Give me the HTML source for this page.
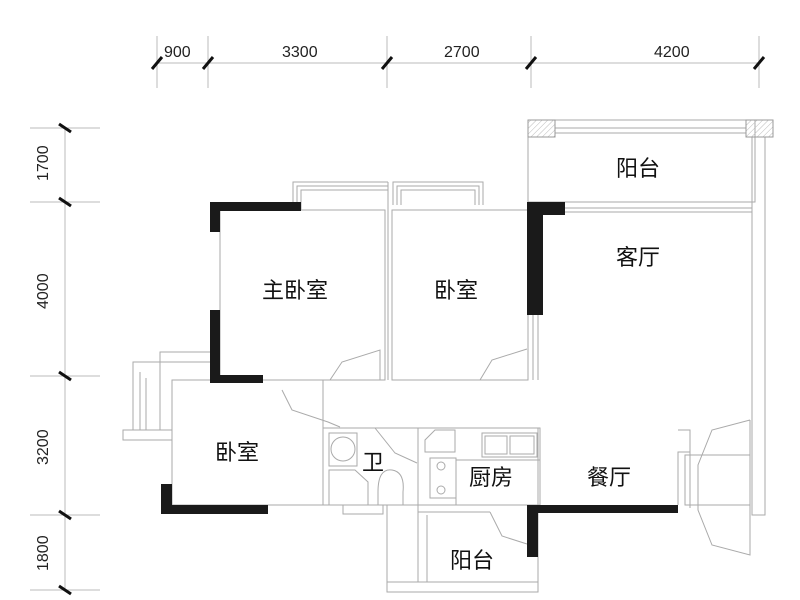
<!DOCTYPE html>
<html><head><meta charset="utf-8"><style>
html,body{margin:0;padding:0;background:#fff}
svg{display:block}
text{font-family:"Liberation Sans","Noto Sans CJK SC",sans-serif;fill:#111}
.d{font-family:"Liberation Sans",sans-serif;font-size:16px;fill:#222}
.r{font-size:22px}
</style></head><body>
<svg width="800" height="600" viewBox="0 0 800 600" xmlns="http://www.w3.org/2000/svg">
<defs><pattern id="h" width="4" height="4" patternUnits="userSpaceOnUse" patternTransform="rotate(45)"><line x1="0" y1="0" x2="0" y2="4" stroke="#bbb" stroke-width="1"/></pattern></defs>
<g stroke="#bbb" stroke-width="1" fill="none">
<line x1="157" y1="63" x2="759" y2="63"/>
<line x1="157" y1="36" x2="157" y2="88"/><line x1="208" y1="36" x2="208" y2="88"/>
<line x1="387" y1="36" x2="387" y2="88"/><line x1="531" y1="36" x2="531" y2="88"/>
<line x1="759" y1="36" x2="759" y2="88"/>
<line x1="65" y1="128" x2="65" y2="590"/>
<line x1="30" y1="128" x2="100" y2="128"/><line x1="30" y1="202" x2="100" y2="202"/>
<line x1="30" y1="376" x2="100" y2="376"/><line x1="30" y1="515" x2="100" y2="515"/>
<line x1="30" y1="590" x2="100" y2="590"/>
</g>
<g stroke="#111" stroke-width="3">
<line x1="152" y1="69" x2="162" y2="57"/><line x1="203" y1="69" x2="213" y2="57"/>
<line x1="382" y1="69" x2="392" y2="57"/><line x1="526" y1="69" x2="536" y2="57"/>
<line x1="754" y1="69" x2="764" y2="57"/>
<line x1="59" y1="124" x2="71" y2="132"/><line x1="59" y1="198" x2="71" y2="206"/>
<line x1="59" y1="372" x2="71" y2="380"/><line x1="59" y1="511" x2="71" y2="519"/>
<line x1="59" y1="586" x2="71" y2="594"/>
</g>
<text class="d" x="164" y="57">900</text><text class="d" x="282" y="57">3300</text>
<text class="d" x="444" y="57">2700</text><text class="d" x="654" y="57">4200</text>
<text class="d" transform="translate(48,181) rotate(-90)">1700</text>
<text class="d" transform="translate(48,309) rotate(-90)">4000</text>
<text class="d" transform="translate(48,465) rotate(-90)">3200</text>
<text class="d" transform="translate(48,571) rotate(-90)">1800</text>

<g stroke="#aaa" stroke-width="1" fill="none">
<rect x="220" y="210" width="165" height="170"/>
<line x1="388" y1="182" x2="388" y2="380"/>
<path d="M293 210V182H388M297 210V186H388M301 210V190H388"/>
<path d="M330 380l12-18 38-12V380"/>
<rect x="392" y="210" width="136" height="170"/>
<path d="M393 205V182H483V205M397 205V186H479V205M401 205V190H475V205"/>
<path d="M480 380l12-20 35-11"/>
<line x1="533" y1="315" x2="533" y2="380"/><line x1="538" y1="315" x2="538" y2="380"/>
<rect x="528" y="120" width="227" height="82"/>
<line x1="555" y1="128" x2="746" y2="128"/><line x1="555" y1="133" x2="746" y2="133"/>
<rect x="752" y="137" width="13" height="378"/>
<line x1="565" y1="208" x2="752" y2="208"/>
<line x1="543" y1="212" x2="752" y2="212"/>
<path d="M678 505V452H690V430H678M690 452v56M750 420V555L712 545L698 510V465L712 430L750 420"/>
<rect x="685" y="455" width="65" height="50"/>
<rect x="172" y="380" width="151" height="125"/>
<path d="M123 430H160V352H210M133 430V362H210M140 430V372M146 430V378"/>
<rect x="123" y="430" width="49" height="10"/>
<path d="M282 390l10 20 36 12 12 5"/>
<line x1="263" y1="505" x2="323" y2="505"/>
<rect x="323" y="428" width="95" height="77"/>
<rect x="329" y="433" width="28" height="33"/><circle cx="343" cy="449" r="12"/>
<path d="M329 470H355L368 482V505H329Z"/>
<path d="M375 428l20 25 22 10"/>
<path d="M378 505V492Q378 468 392 470Q405 472 403 492V505"/>
<rect x="343" y="505" width="40" height="9"/>
<rect x="418" y="428" width="122" height="77"/>
<path d="M425 440l10-10h20V452H425Z"/>
<rect x="482" y="433" width="55" height="24"/><rect x="485" y="436" width="22" height="18"/><rect x="510" y="436" width="24" height="18"/>
<rect x="430" y="458" width="26" height="40"/><circle cx="441" cy="466" r="4"/><circle cx="441" cy="490" r="4"/>
<path d="M456 505V460H540"/>
<line x1="538" y1="428" x2="538" y2="505"/>
<rect x="387" y="505" width="151" height="87"/>
<line x1="418" y1="505" x2="418" y2="582"/><line x1="427" y1="515" x2="427" y2="582"/>
<line x1="387" y1="582" x2="538" y2="582"/>
<line x1="418" y1="512" x2="490" y2="512"/>
<path d="M490 512l12 24 25 8"/>
</g>
<g fill="#1a1a1a">
<rect x="210" y="202" width="91" height="9"/><rect x="210" y="202" width="10" height="30"/>
<rect x="210" y="310" width="10" height="73"/><rect x="210" y="375" width="53" height="8"/>
<rect x="527" y="202" width="16" height="113"/><rect x="527" y="202" width="38" height="13"/>
<rect x="527" y="505" width="151" height="8"/><rect x="527" y="505" width="11" height="52"/>
<rect x="161" y="484" width="11" height="30"/><rect x="161" y="505" width="107" height="9"/>
</g>
<g fill="url(#h)" stroke="#999"><rect x="528" y="120" width="27" height="17"/><rect x="746" y="120" width="27" height="17"/></g>

<text class="r" x="262" y="298">主卧室</text>
<text class="r" x="434" y="298">卧室</text>
<text class="r" x="616" y="265">客厅</text>
<text class="r" x="616" y="176">阳台</text>
<text class="r" x="215" y="460">卧室</text>
<text class="r" x="362" y="470">卫</text>
<text class="r" x="469" y="485">厨房</text>
<text class="r" x="587" y="485">餐厅</text>
<text class="r" x="450" y="568">阳台</text>
</svg>
</body></html>
